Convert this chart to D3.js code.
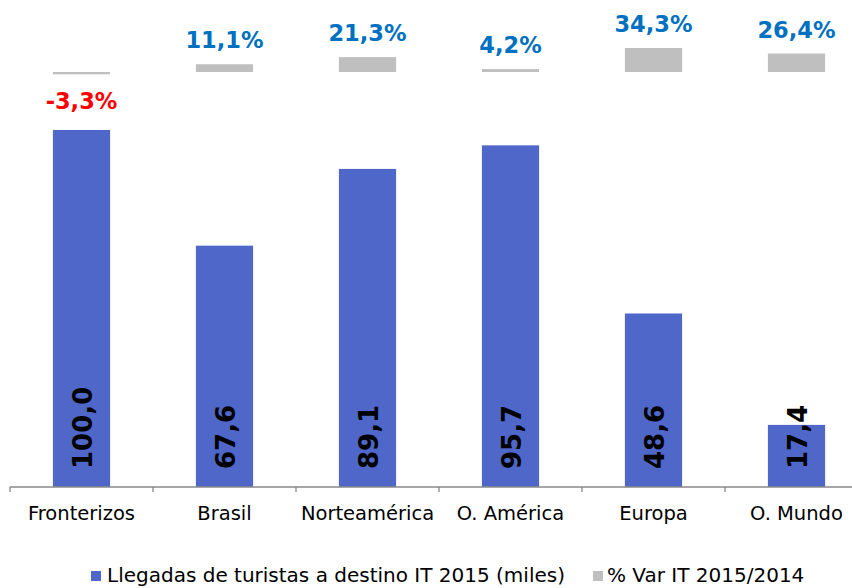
<!DOCTYPE html>
<html><head><meta charset="utf-8">
<script src="https://cdn.jsdelivr.net/npm/d3@7"></script>
<style>body{margin:0;background:#fff}svg{display:block}text{font-family:"DejaVu Sans",Verdana,sans-serif}</style>
</head><body>
<svg id="c" width="852" height="588"></svg>
<script>
const categories = ["Fronterizos","Brasil","Norteamérica","O. América","Europa","O. Mundo"];
const llegadas = [100.0, 67.6, 89.1, 95.7, 48.6, 17.4];
const varPct = [-3.3, 11.1, 21.3, 4.2, 34.3, 26.4];
const seriesNames = ["Llegadas de turistas a destino IT 2015 (miles)", "% Var IT 2015/2014"];

const fmt = v => v.toFixed(1).replace(".", ",");
const svg = d3.select("#c");
const x = d3.scaleBand().domain(categories).range([10, 868]).paddingInner(0.6).paddingOuter(0.3);
const y = d3.scaleLinear().domain([0, 100]).range([487, 130]);
const y2 = d3.scaleLinear().domain([0, 40]).range([72, 44]);

// main bars
svg.selectAll(".bar").data(llegadas).join("rect")
  .attr("x", (d,i) => x(categories[i])).attr("width", x.bandwidth())
  .attr("y", d => y(d)).attr("height", d => y(0) - y(d))
  .attr("fill", "#4E67C8");

// var bars
svg.selectAll(".vbar").data(varPct).join("rect")
  .attr("x", (d,i) => x(categories[i])).attr("width", x.bandwidth())
  .attr("y", d => Math.min(y2(d), y2(0))).attr("height", d => Math.abs(y2(d) - y2(0)))
  .attr("fill", "#BFBFBF");

// var labels
svg.selectAll(".vlab").data(varPct).join("text")
  .attr("x", (d,i) => x(categories[i]) + x.bandwidth()/2)
  .attr("y", d => d >= 0 ? y2(d) - 16 : y2(d) + 35)
  .attr("text-anchor", "middle").attr("font-weight", "bold").attr("font-size", 22.5)
  .attr("fill", d => d >= 0 ? "#0070C0" : "#FF0000")
  .text(d => fmt(d) + "%");

// value labels
svg.selectAll(".val").data(llegadas).join("text")
  .attr("transform", (d,i) => `translate(${x(categories[i]) + x.bandwidth()/2 + 1},${y(0) - 18}) rotate(-90)`)
  .attr("dy", "0.36em").attr("font-weight", "bold").attr("font-size", 26).attr("fill", "#000")
  .text(d => fmt(d));

// axis
const ax = svg.append("g").attr("transform", `translate(0,${y(0)})`)
  .call(d3.axisBottom(x).tickSize(0).tickPadding(19));
ax.select(".domain").attr("stroke", "#888").attr("stroke-width", 1.3).attr("d", "M10,0H868");
ax.selectAll(".tick text").attr("font-size", 19.5).attr("fill", "#000")
  .style("font-family", '"DejaVu Sans",Verdana,sans-serif');
const bounds = d3.range(categories.length + 1).map(i => 10 + i * x.step());
ax.selectAll(".bnd").data(bounds).join("line")
  .attr("x1", d => d).attr("x2", d => d).attr("y1", 0).attr("y2", 5)
  .attr("stroke", "#888").attr("stroke-width", 1.3);

// legend
const leg = [{name: seriesNames[0], color: "#4E67C8", x: 91, tx: 16}, {name: seriesNames[1], color: "#BFBFBF", x: 593, tx: 14}];
const lg = svg.selectAll(".leg").data(leg).join("g").attr("transform", d => `translate(${d.x},571)`);
lg.append("rect").attr("width", 10).attr("height", 10).attr("fill", d => d.color);
lg.append("text").attr("x", d => d.tx).attr("y", 11).attr("font-size", 20).attr("fill", "#000").text(d => d.name);
</script>
</body></html>
